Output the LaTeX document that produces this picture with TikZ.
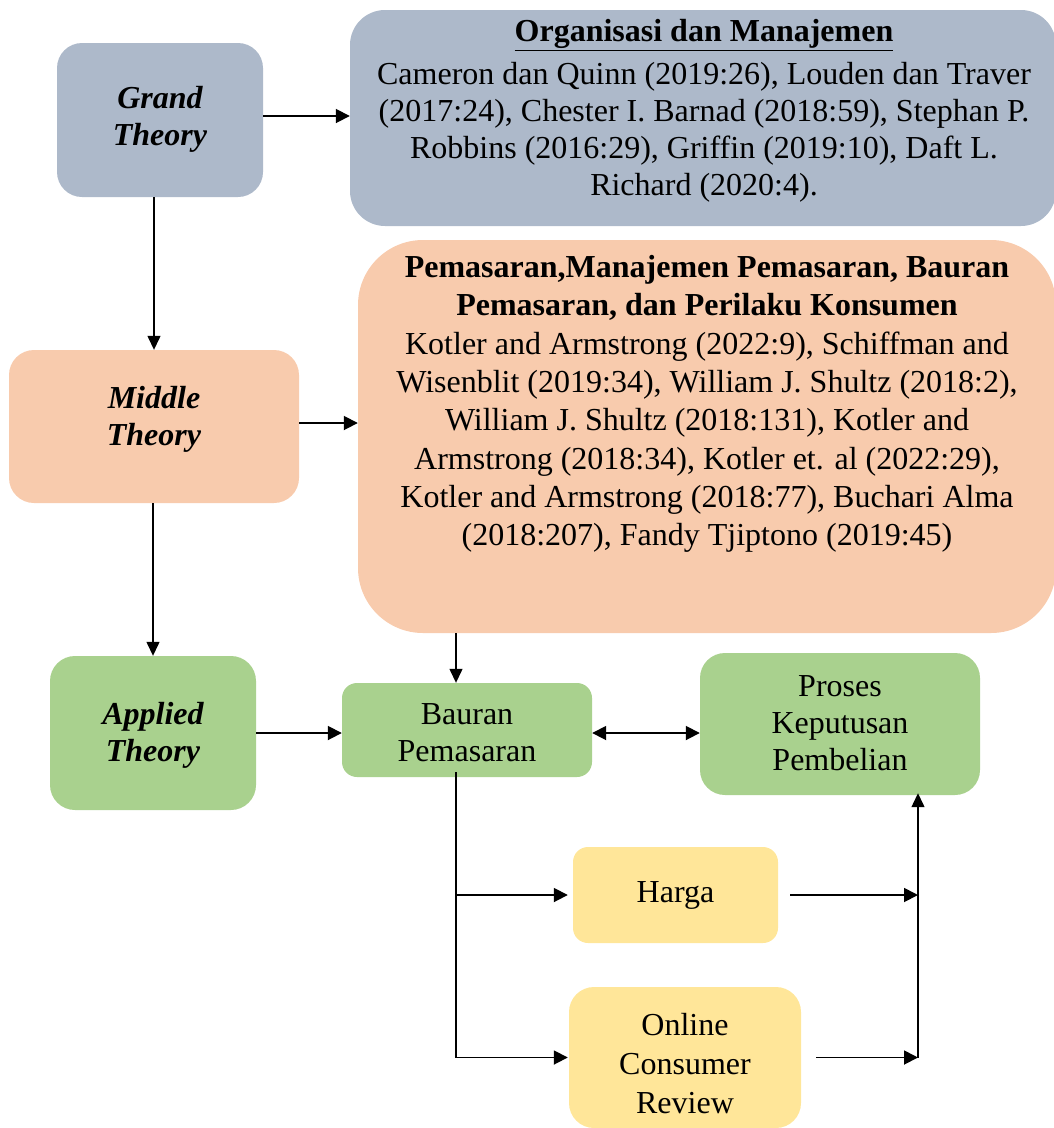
\documentclass[tikz,border=0pt]{standalone}
\usepackage{fontspec}
\setmainfont{Liberation Serif}
\usetikzlibrary{arrows.meta}
\definecolor{cgrey}{HTML}{ADB9CA}
\definecolor{cpeach}{HTML}{F8CBAD}
\definecolor{cgreen}{HTML}{A9D18E}
\definecolor{cyellow}{HTML}{FFE699}
\begin{document}
\begin{tikzpicture}[x=1pt,y=-1pt,
  box/.style={draw=none, inner sep=0pt, align=center, font=\fontsize{32}{37}\selectfont},
  txt/.style={inner sep=0pt, align=center, font=\fontsize{32}{37}\selectfont},
  theorytxt/.style={txt, font=\fontsize{32}{37}\selectfont\bfseries\itshape},
  harr/.style={line width=1.8pt, -{Triangle[length=14pt,width=14pt]}},
  varr/.style={line width=1.3pt, -{Triangle[length=14pt,width=13pt]}},
  vline/.style={line width=1.3pt}]
\useasboundingbox (0,0) rectangle (1054,1128);

% boxes
\node[box, fill=cgrey, rounded corners=25pt, minimum width=206pt, minimum height=154pt] (grand) at (160,120) {};
\node[theorytxt] (grandtxt) at (160,119) {Grand\\Theory};
\node[box, fill=cgrey, rounded corners=35pt, minimum width=706pt, minimum height=216pt] (org) at (703,118) {};
\node[txt] (orgtxt) at (704,111) {\textbf{\underline{Organisasi dan Manajemen}}\\[6pt]
Cameron dan Quinn (2019:26), Louden dan Traver\\
(2017:24), Chester I. Barnad (2018:59), Stephan P.\\
Robbins (2016:29), Griffin (2019:10), Daft L.\\
Richard (2020:4).};

\node[box, fill=cpeach, rounded corners=25pt, minimum width=290pt, minimum height=153pt] (middle) at (154,426.5) {};
\node[theorytxt] (middletxt) at (154,419) {Middle\\Theory};
\node[box, fill=cpeach, rounded corners=65pt, minimum width=698pt, minimum height=393pt] (pem) at (707,436.5) {};
\node[txt, font=\fontsize{32}{38.3}\selectfont] (pemtxt) at (707,404) {\textbf{Pemasaran,Manajemen Pemasaran, Bauran}\\
\textbf{Pemasaran, dan Perilaku Konsumen}\\
Kotler and Armstrong (2022:9), Schiffman and\\
Wisenblit (2019:34), William J. Shultz (2018:2),\\
William J. Shultz (2018:131), Kotler and\\
Armstrong (2018:34), Kotler et. al (2022:29),\\
Kotler and Armstrong (2018:77), Buchari Alma\\
(2018:207), Fandy Tjiptono (2019:45)};

\node[box, fill=cgreen, rounded corners=25pt, minimum width=206pt, minimum height=154pt] (applied) at (153,733) {};
\node[theorytxt] (appliedtxt) at (153,735) {Applied\\Theory};
\node[box, fill=cgreen, rounded corners=15pt, minimum width=250pt, minimum height=94pt] (bauran) at (467,730) {};
\node[txt] (baurantxt) at (467,733) {Bauran\\Pemasaran};
\node[box, fill=cgreen, rounded corners=25pt, minimum width=280pt, minimum height=142pt] (proses) at (840,724) {};
\node[txt] (prosestxt) at (840,723) {Proses\\Keputusan\\Pembelian};
\node[box, fill=cyellow, rounded corners=15pt, minimum width=205pt, minimum height=96pt] (harga) at (675.5,895) {};
\node[txt] (hargatxt) at (675.5,895) {Harga};
\node[box, fill=cyellow, rounded corners=25pt, minimum width=232pt, minimum height=141pt] (online) at (685,1057.5) {};
\node[txt, font=\fontsize{32}{39}\selectfont] (onlinetxt) at (685,1064) {Online\\Consumer\\Review};

\coordinate (bx) at (456,0);
\coordinate (rx) at (918,0);

% connectors
\draw[harr] (grand.east |- 0,116) -- (org.west |- 0,116);
\draw[varr] (middle.north |- grand.south) -- (middle.north);
\draw[harr] (middle.east |- 0,423) -- (pem.west |- 0,423);
\draw[varr] (applied.north |- middle.south) -- (applied.north);
\draw[harr] (applied.east) -- (applied.east -| bauran.west);
\draw[varr] (pem.south -| bx) -- (bauran.north -| bx);
\draw[line width=1.8pt, {Triangle[length=14pt,width=14pt]}-{Triangle[length=14pt,width=14pt]}] (bauran.east |- 0,733) -- (proses.west |- 0,733);
\draw[vline] ([yshift=5pt]bauran.south -| bx) -- (online.west -| bx);
\draw[harr] (harga.west -| bx) -- ([xshift=-5pt]harga.west);
\draw[harr] (online.west -| bx) -- ([xshift=-1pt]online.west);
\draw[harr] ([xshift=12pt]harga.east) -- (harga.east -| rx);
\draw[harr] ([xshift=15pt]online.east) -- (online.east -| rx);
\draw[varr] (online.east -| rx) -- ([yshift=2pt]proses.south -| rx);
\end{tikzpicture}
\end{document}
